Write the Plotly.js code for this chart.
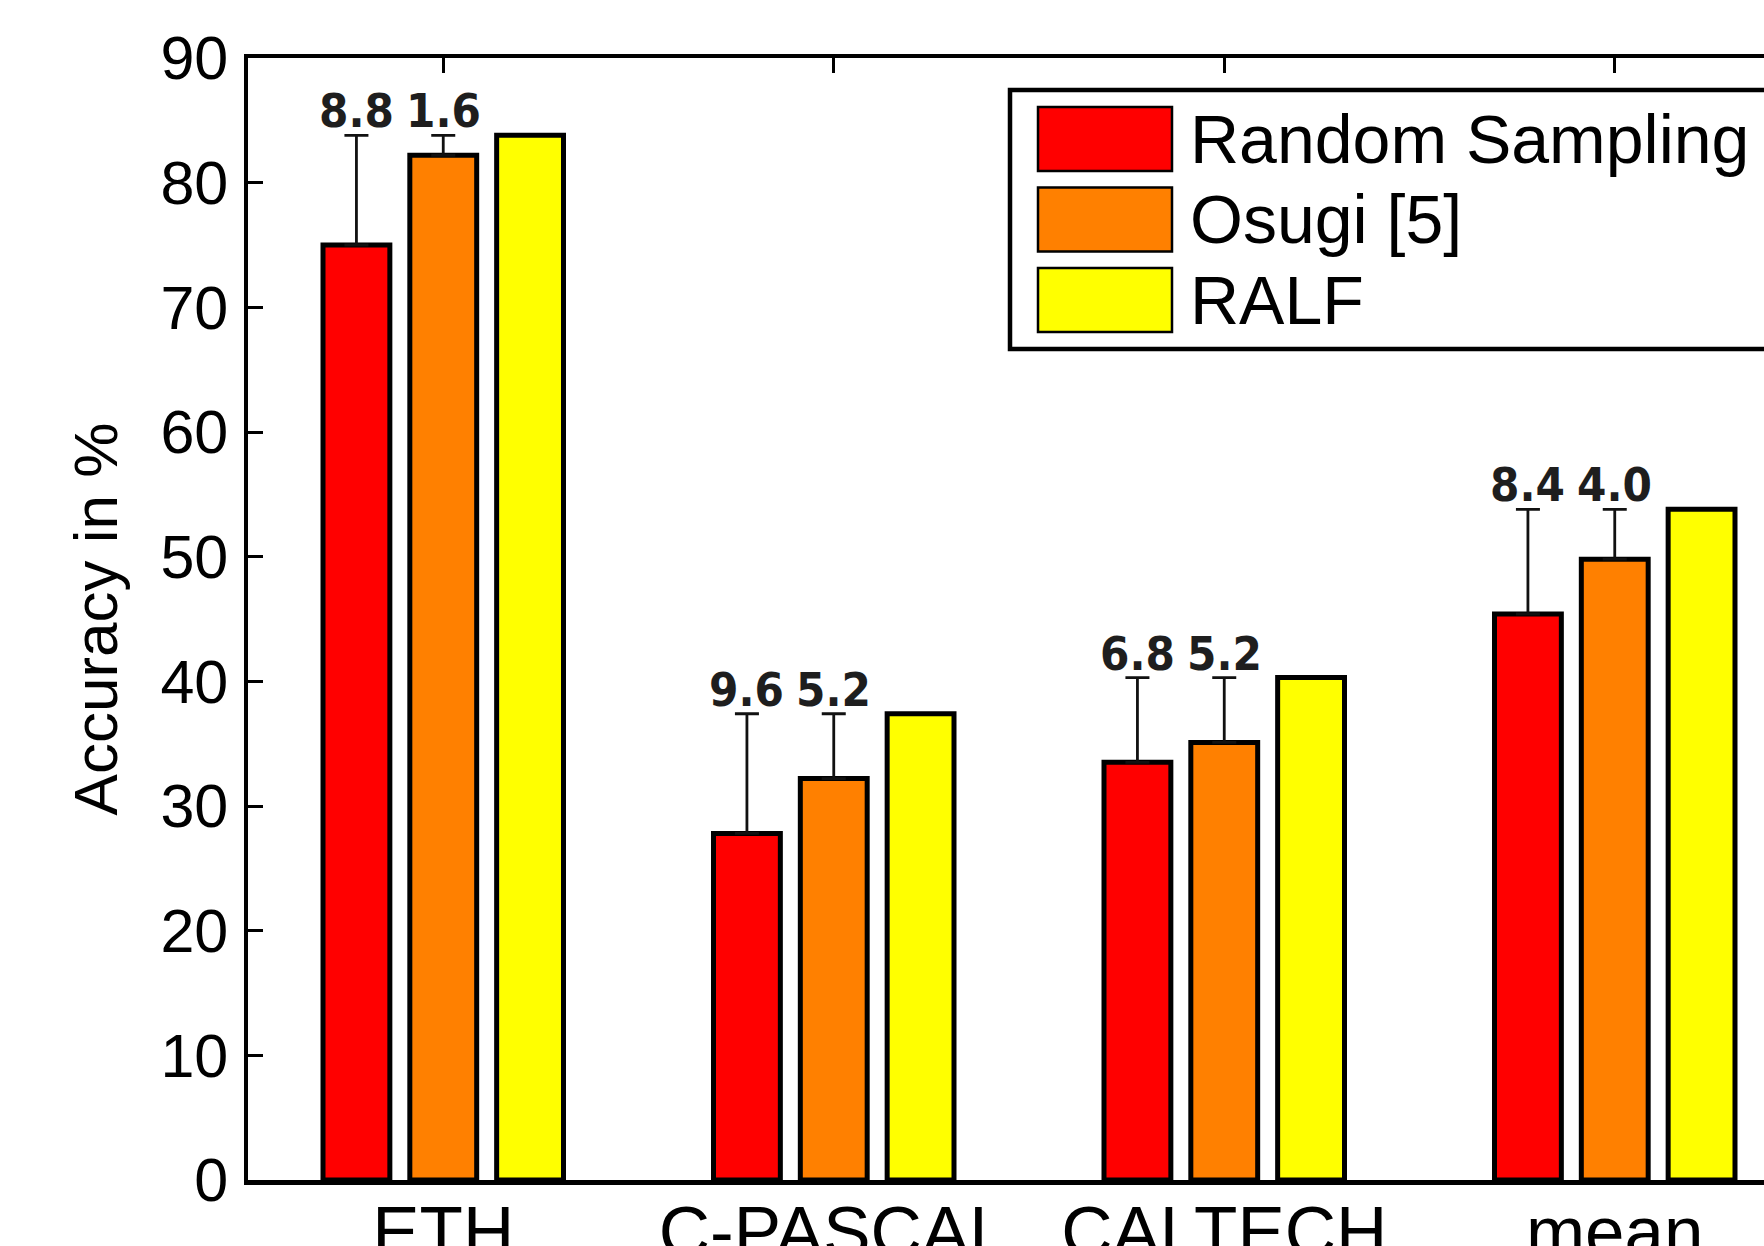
<!DOCTYPE html>
<html><head><meta charset="utf-8">
<script src="https://cdn.plot.ly/plotly-3.0.1.min.js"></script>
<style>html,body{margin:0;padding:0;overflow:hidden;background:#fff}#chart{width:1900px;height:1300px}</style>
</head><body><div id="chart"></div>
<script>
const categories = ['ETH', 'C-PASCAL', 'CALTECH', 'mean'];
const seriesNames = ['Random Sampling', 'Osugi [5]', 'RALF'];
const randomSampling = [75.0, 27.8, 33.5, 45.4];
const osugi = [82.2, 32.2, 35.1, 49.8];
const ralf = [83.8, 37.4, 40.3, 53.8];
const gapRandom = [8.8, 9.6, 6.8, 8.4];
const gapOsugi = [1.6, 5.2, 5.2, 4.0];
const yTickVals = [0, 10, 20, 30, 40, 50, 60, 70, 80, 90];

const colors = ['#FF0000', '#FF8000', '#FFFF00'];
const W = 1900, H = 1300;
const M = {l: 248, r: 90, t: 58, b: 120};
const PW = W - M.l - M.r, PH = H - M.t - M.b;
const BARGAP = 0.333, GROUPGAP = 0.23;
const slot = (1 - BARGAP) / 3;
const xIdx = categories.map((_, i) => i + 1);
const series = [randomSampling, osugi, ralf];
const gaps = [gapRandom, gapOsugi, null];

const traces = series.map((vals, s) => {
  const t = {
    type: 'bar', name: seriesNames[s], x: xIdx, y: vals,
    marker: {color: colors[s], line: {color: '#000', width: 5}},
    showlegend: false, hoverinfo: 'y'
  };
  if (gaps[s]) {
    t.error_y = {type: 'data', symmetric: false, array: gaps[s],
      arrayminus: gaps[s].map(() => 0), color: '#111', thickness: 2.8, width: 12};
  }
  return t;
});

const labelFont = {family: '"Liberation Sans Narrow", "DejaVu Sans Condensed", Arial, sans-serif', size: 47, color: '#1e1e1e', weight: 'bold'};
const annotations = [];
gaps.forEach((g, s) => {
  if (!g) return;
  g.forEach((v, i) => {
    annotations.push({x: xIdx[i] + (s - 1) * slot, y: series[s][i] + v, xref: 'x', yref: 'y',
      text: v.toFixed(1), showarrow: false, yanchor: 'bottom', yshift: -5, font: labelFont});
  });
});

// legend drawn as shapes/text (large swatches)
const px = x => (x - M.l) / PW;
const py = y => (H - M.b - y) / PH;
const shapes = [{type: 'rect', xref: 'paper', yref: 'paper', x0: px(1010), x1: px(1860), y0: py(349), y1: py(90),
  line: {color: '#000', width: 4.5}, fillcolor: '#fff', layer: 'above'}];
const rowCenters = [139, 219.5, 300];
seriesNames.forEach((n, s) => {
  const c = rowCenters[s];
  shapes.push({type: 'rect', xref: 'paper', yref: 'paper', x0: px(1038), x1: px(1172), y0: py(c + 32), y1: py(c - 32),
    line: {color: '#000', width: 2.5}, fillcolor: colors[s], layer: 'above'});
  annotations.push({xref: 'paper', yref: 'paper', x: px(1188), y: py(c), xanchor: 'left', yanchor: 'middle',
    text: n, showarrow: false, font: {family: '"Liberation Sans", Arial, sans-serif', size: 68, color: '#000'}});
});

const layout = {
  width: W, height: H, margin: M, paper_bgcolor: '#fff', plot_bgcolor: '#fff',
  barmode: 'group', bargap: BARGAP, bargroupgap: GROUPGAP,
  font: {family: '"Liberation Sans", Arial, sans-serif', color: '#000'},
  xaxis: {range: [0.5, 4.5], tickvals: xIdx, ticktext: categories, ticks: 'inside', ticklen: 15, tickwidth: 3,
    tickcolor: '#000', showline: true, linecolor: '#000', linewidth: 4.5, mirror: 'ticks', showgrid: false,
    zeroline: false, layer: 'below traces', tickfont: {size: 71, color: '#000'}, ticklabelstandoff: -14},
  yaxis: {range: [0, 90], tickvals: yTickVals, ticks: 'inside', ticklen: 15, tickwidth: 3, tickcolor: '#000',
    showline: true, linecolor: '#000', linewidth: 4.5, mirror: 'ticks', showgrid: false, zeroline: false,
    tickfont: {size: 61, color: '#000'}, ticklabelstandoff: 3,
    title: {text: 'Accuracy in %', font: {size: 62, color: '#000'}, standoff: 24}},
  shapes: shapes, annotations: annotations
};
Plotly.newPlot('chart', traces, layout, {displayModeBar: false, staticPlot: true});
</script></body></html>
